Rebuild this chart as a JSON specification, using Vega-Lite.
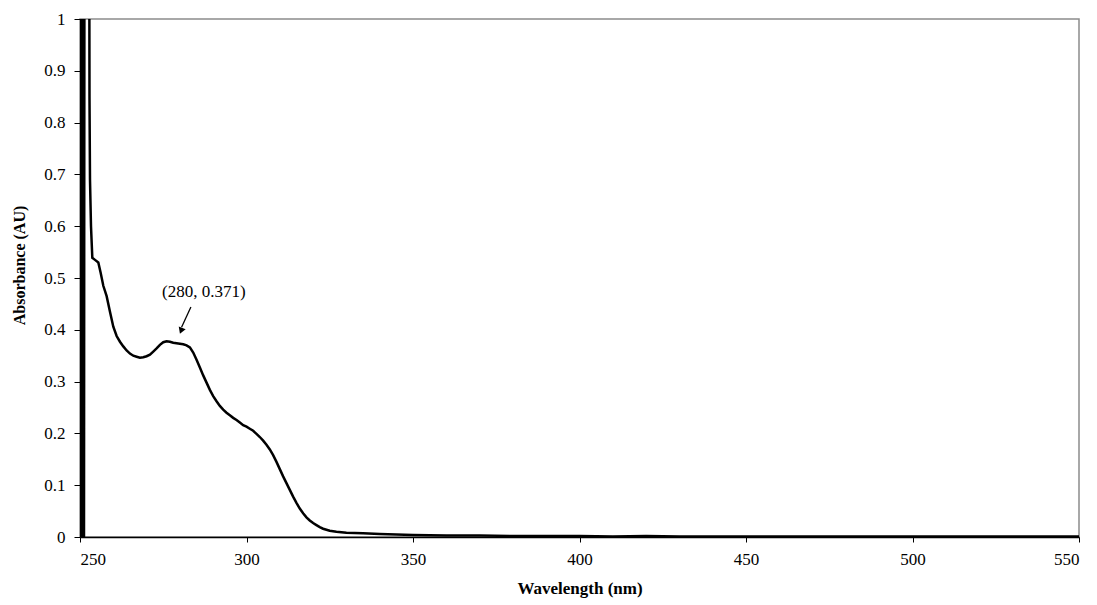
{
  "$schema": "https://vega.github.io/schema/vega-lite/v6.json",
  "width": 999,
  "height": 518,
  "autosize": "none",
  "padding": {"left": 80, "top": 19, "right": 18, "bottom": 68},
  "background": "white",
  "config": {
    "view": {"stroke": "#8c8c8c", "strokeWidth": 1.5},
    "font": "Liberation Serif, Times New Roman, DejaVu Serif, serif"
  },
  "datasets": {
    "spectrum": [
      {"wl": 250.0, "A": 0}, {"wl": 250.2, "A": 1.3}, {"wl": 250.4, "A": 0}, {"wl": 250.6, "A": 1.3},
      {"wl": 250.8, "A": 0}, {"wl": 251.0, "A": 1.3}, {"wl": 251.2, "A": 0}, {"wl": 251.35, "A": 1.3},
      {"wl": 252.75, "A": 1.3}, {"wl": 252.85, "A": 0.85}, {"wl": 253.0, "A": 0.69}, {"wl": 253.3, "A": 0.6},
      {"wl": 253.7, "A": 0.539}, {"wl": 254.5, "A": 0.535}, {"wl": 255.5, "A": 0.53}, {"wl": 256.2, "A": 0.51},
      {"wl": 257, "A": 0.485}, {"wl": 258, "A": 0.465}, {"wl": 259, "A": 0.435}, {"wl": 260, "A": 0.406},
      {"wl": 261, "A": 0.388}, {"wl": 262, "A": 0.377}, {"wl": 263, "A": 0.368}, {"wl": 264, "A": 0.36},
      {"wl": 265, "A": 0.354}, {"wl": 266, "A": 0.35}, {"wl": 267, "A": 0.348}, {"wl": 268, "A": 0.346},
      {"wl": 269, "A": 0.347}, {"wl": 270, "A": 0.349}, {"wl": 271, "A": 0.352}, {"wl": 272, "A": 0.358},
      {"wl": 273, "A": 0.364}, {"wl": 274, "A": 0.371}, {"wl": 275, "A": 0.376}, {"wl": 276, "A": 0.378},
      {"wl": 277, "A": 0.377}, {"wl": 278, "A": 0.375}, {"wl": 279, "A": 0.374}, {"wl": 280, "A": 0.373},
      {"wl": 281, "A": 0.372}, {"wl": 282, "A": 0.37}, {"wl": 283, "A": 0.366}, {"wl": 284, "A": 0.356},
      {"wl": 285, "A": 0.342}, {"wl": 286, "A": 0.327}, {"wl": 287, "A": 0.312}, {"wl": 288, "A": 0.298},
      {"wl": 289, "A": 0.284}, {"wl": 290, "A": 0.272}, {"wl": 291, "A": 0.262}, {"wl": 292, "A": 0.253},
      {"wl": 293, "A": 0.246}, {"wl": 294, "A": 0.24}, {"wl": 295, "A": 0.235}, {"wl": 296, "A": 0.23},
      {"wl": 297, "A": 0.226}, {"wl": 298, "A": 0.221}, {"wl": 299, "A": 0.216}, {"wl": 300, "A": 0.213},
      {"wl": 301, "A": 0.209}, {"wl": 302, "A": 0.205}, {"wl": 303, "A": 0.199}, {"wl": 304, "A": 0.193},
      {"wl": 305, "A": 0.186}, {"wl": 306, "A": 0.178}, {"wl": 307, "A": 0.169}, {"wl": 308, "A": 0.158},
      {"wl": 309, "A": 0.145}, {"wl": 310, "A": 0.131}, {"wl": 311, "A": 0.117}, {"wl": 312, "A": 0.104},
      {"wl": 313, "A": 0.091}, {"wl": 314, "A": 0.078}, {"wl": 315, "A": 0.066}, {"wl": 316, "A": 0.055},
      {"wl": 317, "A": 0.046}, {"wl": 318, "A": 0.038}, {"wl": 319, "A": 0.032}, {"wl": 320, "A": 0.027},
      {"wl": 321, "A": 0.023}, {"wl": 322, "A": 0.019}, {"wl": 323, "A": 0.016}, {"wl": 324, "A": 0.014},
      {"wl": 325, "A": 0.012}, {"wl": 327, "A": 0.01}, {"wl": 330, "A": 0.008}, {"wl": 335, "A": 0.007},
      {"wl": 340, "A": 0.006}, {"wl": 345, "A": 0.005}, {"wl": 350, "A": 0.004}, {"wl": 360, "A": 0.003},
      {"wl": 370, "A": 0.003}, {"wl": 380, "A": 0.002}, {"wl": 390, "A": 0.002}, {"wl": 400, "A": 0.002},
      {"wl": 410, "A": 0.001}, {"wl": 420, "A": 0.002}, {"wl": 430, "A": 0.001}, {"wl": 440, "A": 0.001},
      {"wl": 450, "A": 0.001}, {"wl": 460, "A": 0.001}, {"wl": 470, "A": 0.001}, {"wl": 480, "A": 0.001},
      {"wl": 490, "A": 0.001}, {"wl": 500, "A": 0.001}, {"wl": 510, "A": 0.001}, {"wl": 520, "A": 0.001},
      {"wl": 530, "A": 0.001}, {"wl": 540, "A": 0.001}, {"wl": 550, "A": 0.001}
    ],
    "arrow": [{"x1": 283.3, "y1": 0.444, "x2": 280.5, "y2": 0.405}],
    "head": [{"x": 280.35, "y": 0.398}],
    "note": [{"x": 287.2, "y": 0.473, "t": "(280, 0.371)"}]
  },
  "layer": [
    {
      "data": {"name": "spectrum"},
      "mark": {"type": "line", "color": "black", "strokeWidth": 2.5, "clip": true, "interpolate": "linear"},
      "encoding": {
        "x": {
          "field": "wl", "type": "quantitative",
          "scale": {"domain": [250, 550], "nice": false, "zero": false},
          "axis": {
            "values": [250, 300, 350, 400, 450, 500, 550],
            "format": "d",
            "grid": false,
            "domainColor": "black", "domainWidth": 1.5,
            "tickColor": "black", "tickSize": 5, "tickWidth": 1,
            "labelFont": "Liberation Serif, Times New Roman, serif", "labelFontSize": 17, "labelColor": "black", "labelPadding": 9,
            "title": "Wavelength (nm)",
            "titleFont": "Liberation Serif, Times New Roman, serif", "titleFontSize": 17, "titleFontWeight": "bold", "titleColor": "black",
            "titlePadding": 13
          }
        },
        "y": {
          "field": "A", "type": "quantitative",
          "scale": {"domain": [0, 1], "nice": false},
          "axis": {
            "values": [0, 0.1, 0.2, 0.3, 0.4, 0.5, 0.6, 0.7, 0.8, 0.9, 1],
            "format": "~g",
            "grid": false,
            "domainColor": "black", "domainWidth": 1,
            "tickColor": "black", "tickSize": 6, "tickWidth": 1,
            "labelFont": "Liberation Serif, Times New Roman, serif", "labelFontSize": 17, "labelColor": "black", "labelPadding": 9,
            "title": "Absorbance (AU)",
            "titleFont": "Liberation Serif, Times New Roman, serif", "titleFontSize": 16, "titleFontWeight": "bold", "titleColor": "black",
            "titleX": -61, "titleY": 246, "titleAngle": -90, "titleAlign": "center", "titleBaseline": "middle"
          }
        }
      }
    },
    {
      "data": {"name": "arrow"},
      "mark": {"type": "rule", "color": "black", "strokeWidth": 1.3},
      "encoding": {
        "x": {"field": "x1", "type": "quantitative"},
        "y": {"field": "y1", "type": "quantitative"},
        "x2": {"field": "x2"},
        "y2": {"field": "y2"}
      }
    },
    {
      "data": {"name": "head"},
      "mark": {"type": "point", "shape": "triangle-down", "filled": true, "color": "black", "size": 55, "angle": 21, "opacity": 1},
      "encoding": {
        "x": {"field": "x", "type": "quantitative"},
        "y": {"field": "y", "type": "quantitative"}
      }
    },
    {
      "data": {"name": "note"},
      "mark": {"type": "text", "font": "Liberation Serif, Times New Roman, serif", "fontSize": 17, "color": "black", "align": "center", "baseline": "middle"},
      "encoding": {
        "x": {"field": "x", "type": "quantitative"},
        "y": {"field": "y", "type": "quantitative"},
        "text": {"field": "t"}
      }
    }
  ]
}
